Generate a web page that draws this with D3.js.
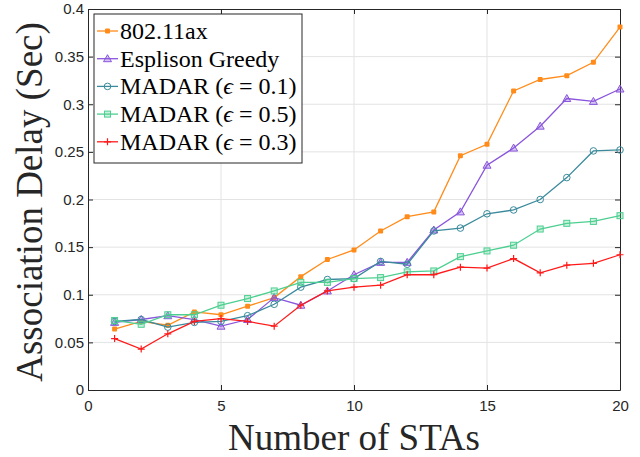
<!DOCTYPE html>
<html>
<head>
<meta charset="utf-8">
<script src="https://cdn.jsdelivr.net/npm/d3@7"></script>
<style>
  body { margin: 0; background: #fff; }
  svg { display: block; }
</style>
</head>
<body>
<div id="chart"></div>
<script>
// data
var stas = [1, 2, 3, 4, 5, 6, 7, 8, 9, 10, 11, 12, 13, 14, 15, 16, 17, 18, 19, 20];
var ax80211 = [0.064, 0.072, 0.068, 0.082, 0.079, 0.088, 0.097, 0.119, 0.137, 0.147, 0.167, 0.182, 0.187, 0.246, 0.258, 0.314, 0.326, 0.330, 0.344, 0.381];
var greedy = [0.071, 0.074, 0.078, 0.074, 0.067, 0.074, 0.097, 0.089, 0.104, 0.121, 0.134, 0.134, 0.168, 0.187, 0.236, 0.254, 0.277, 0.306, 0.303, 0.316];
var madar01 = [0.072, 0.074, 0.066, 0.071, 0.072, 0.078, 0.090, 0.108, 0.116, 0.117, 0.135, 0.132, 0.167, 0.170, 0.185, 0.189, 0.200, 0.223, 0.251, 0.252];
var madar05 = [0.073, 0.069, 0.079, 0.079, 0.089, 0.096, 0.104, 0.113, 0.113, 0.117, 0.118, 0.124, 0.125, 0.140, 0.146, 0.152, 0.169, 0.175, 0.177, 0.183];
var madar03 = [0.054, 0.043, 0.059, 0.072, 0.075, 0.072, 0.067, 0.089, 0.104, 0.108, 0.110, 0.121, 0.121, 0.129, 0.128, 0.138, 0.123, 0.131, 0.133, 0.142];
var seriesNames = ["802.11ax", "Esplison Greedy", "MADAR (\u03F5 = 0.1)", "MADAR (\u03F5 = 0.5)", "MADAR (\u03F5 = 0.3)"];
var xTicks = [0, 5, 10, 15, 20];
var yTicks = [0, 0.05, 0.1, 0.15, 0.2, 0.25, 0.3, 0.35, 0.4];

var series = [
  { name: seriesNames[0], values: ax80211, color: "#ff8c1a", marker: "dot" },
  { name: seriesNames[1], values: greedy, color: "#8a55dc", marker: "tri" },
  { name: seriesNames[2], values: madar01, color: "#3a8a9c", marker: "circle" },
  { name: seriesNames[3], values: madar05, color: "#4ccf90", marker: "square" },
  { name: seriesNames[4], values: madar03, color: "#ff1a1a", marker: "plus" }
];

var W = 640, H = 457;
var margin = { top: 9, right: 20, bottom: 67, left: 88 },
  width = W - margin.left - margin.right,
  height = H - margin.top - margin.bottom;

var root = d3.select("#chart").append("svg")
  .attr("width", W)
  .attr("height", H);
var svg = root.append("g")
  .attr("transform", "translate(" + margin.left + "," + margin.top + ")");

var x = d3.scaleLinear().domain([0, 20]).range([0, width]);
var y = d3.scaleLinear().domain([0, 0.4]).range([height, 0]);

// grid
svg.append("g").selectAll("line").data(xTicks.slice(1, -1)).enter().append("line")
  .attr("x1", d => x(d)).attr("x2", d => x(d))
  .attr("y1", 0).attr("y2", height)
  .attr("stroke", "#e3e3e3").attr("stroke-width", 1);
svg.append("g").selectAll("line").data(yTicks.slice(1, -1)).enter().append("line")
  .attr("x1", 0).attr("x2", width)
  .attr("y1", d => y(d)).attr("y2", d => y(d))
  .attr("stroke", "#e3e3e3").attr("stroke-width", 1);

// axes (matlab style, ticks inside, box all around)
var fmt = d => String(d);
function styleAxis(g) {
  g.select(".domain").attr("stroke", "#262626");
  g.selectAll(".tick line").attr("stroke", "#262626");
  g.selectAll("text").attr("fill", "#262626")
    .style("font-family", "'Liberation Sans', Arial, sans-serif")
    .style("font-size", "15px");
}
svg.append("g")
  .attr("transform", "translate(0," + height + ")")
  .call(d3.axisBottom(x).tickValues(xTicks).tickFormat(fmt).tickSizeInner(-5).tickSizeOuter(0).tickPadding(10))
  .call(styleAxis);
svg.append("g")
  .call(d3.axisLeft(y).tickValues(yTicks).tickFormat(fmt).tickSizeInner(-5).tickSizeOuter(0).tickPadding(4))
  .call(styleAxis);
svg.append("g")
  .call(d3.axisTop(x).tickValues(xTicks).tickFormat("").tickSizeInner(-5).tickSizeOuter(0))
  .call(styleAxis);
svg.append("g")
  .attr("transform", "translate(" + width + ",0)")
  .call(d3.axisRight(y).tickValues(yTicks).tickFormat("").tickSizeInner(-5).tickSizeOuter(0))
  .call(styleAxis);

// markers
function drawMarker(g, type, color, cx, cy) {
  if (type === "dot") {
    g.append("rect").attr("x", cx - 2.5).attr("y", cy - 2.5).attr("width", 5).attr("height", 5)
      .attr("rx", 1).attr("fill", color);
  } else if (type === "tri") {
    g.append("path")
      .attr("d", "M" + cx + "," + (cy - 4) + "L" + (cx + 4) + "," + (cy + 3) + "L" + (cx - 4) + "," + (cy + 3) + "Z")
      .attr("fill", color).attr("fill-opacity", 0.35).attr("stroke", color).attr("stroke-width", 1);
  } else if (type === "circle") {
    g.append("circle").attr("cx", cx).attr("cy", cy).attr("r", 3.3)
      .attr("fill", "none").attr("stroke", color).attr("stroke-width", 1);
  } else if (type === "square") {
    g.append("rect").attr("x", cx - 3).attr("y", cy - 3).attr("width", 6).attr("height", 6)
      .attr("fill", color).attr("fill-opacity", 0.3).attr("stroke", color).attr("stroke-width", 1);
  } else if (type === "plus") {
    g.append("path")
      .attr("d", "M" + (cx - 3.5) + "," + cy + "H" + (cx + 3.5) + "M" + cx + "," + (cy - 3.5) + "V" + (cy + 3.5))
      .attr("stroke", color).attr("stroke-width", 1.2);
  }
}

var line = d3.line()
  .x((d, i) => x(stas[i]))
  .y(d => y(d));

series.forEach(function (s) {
  var g = svg.append("g");
  g.append("path")
    .attr("d", line(s.values))
    .attr("fill", "none")
    .attr("stroke", s.color)
    .attr("stroke-width", 1.3);
  s.values.forEach(function (v, i) {
    drawMarker(g, s.marker, s.color, x(stas[i]), y(v));
  });
});

// legend
var leg = svg.append("g").attr("transform", "translate(6,5)");
leg.append("rect")
  .attr("x", 0).attr("y", 0).attr("width", 208).attr("height", 149)
  .attr("fill", "#fff").attr("stroke", "#262626").attr("stroke-width", 1);
series.forEach(function (s, i) {
  var ly = 17 + i * 27.7;
  var lg = leg.append("g");
  lg.append("line").attr("x1", 3).attr("x2", 24).attr("y1", ly).attr("y2", ly)
    .attr("stroke", s.color).attr("stroke-width", 1.3);
  drawMarker(lg, s.marker, s.color, 13.5, ly);
  var t = lg.append("text")
    .attr("x", 26).attr("y", ly + 8)
    .style("font-family", "'Liberation Serif', 'Times New Roman', serif")
    .style("font-size", "24px")
    .attr("fill", "#000");
  if (i < 2) {
    t.text(s.name);
  } else {
    var parts = s.name.split("\u03F5");
    t.append("tspan").text(parts[0]);
    t.append("tspan").style("font-style", "italic").text("\u03F5");
    t.append("tspan").text(parts[1]);
  }
});

// axis titles
root.append("text")
  .attr("x", margin.left + width / 2).attr("y", 450)
  .attr("text-anchor", "middle")
  .style("font-family", "'Liberation Serif', 'Times New Roman', serif")
  .style("font-size", "37px")
  .attr("fill", "#262626")
  .text("Number of STAs");
root.append("text")
  .attr("transform", "translate(42,202) rotate(-90)")
  .attr("text-anchor", "middle")
  .style("font-family", "'Liberation Serif', 'Times New Roman', serif")
  .style("font-size", "37px")
  .attr("fill", "#262626")
  .text("Association Delay (Sec)");
</script>
</body>
</html>
